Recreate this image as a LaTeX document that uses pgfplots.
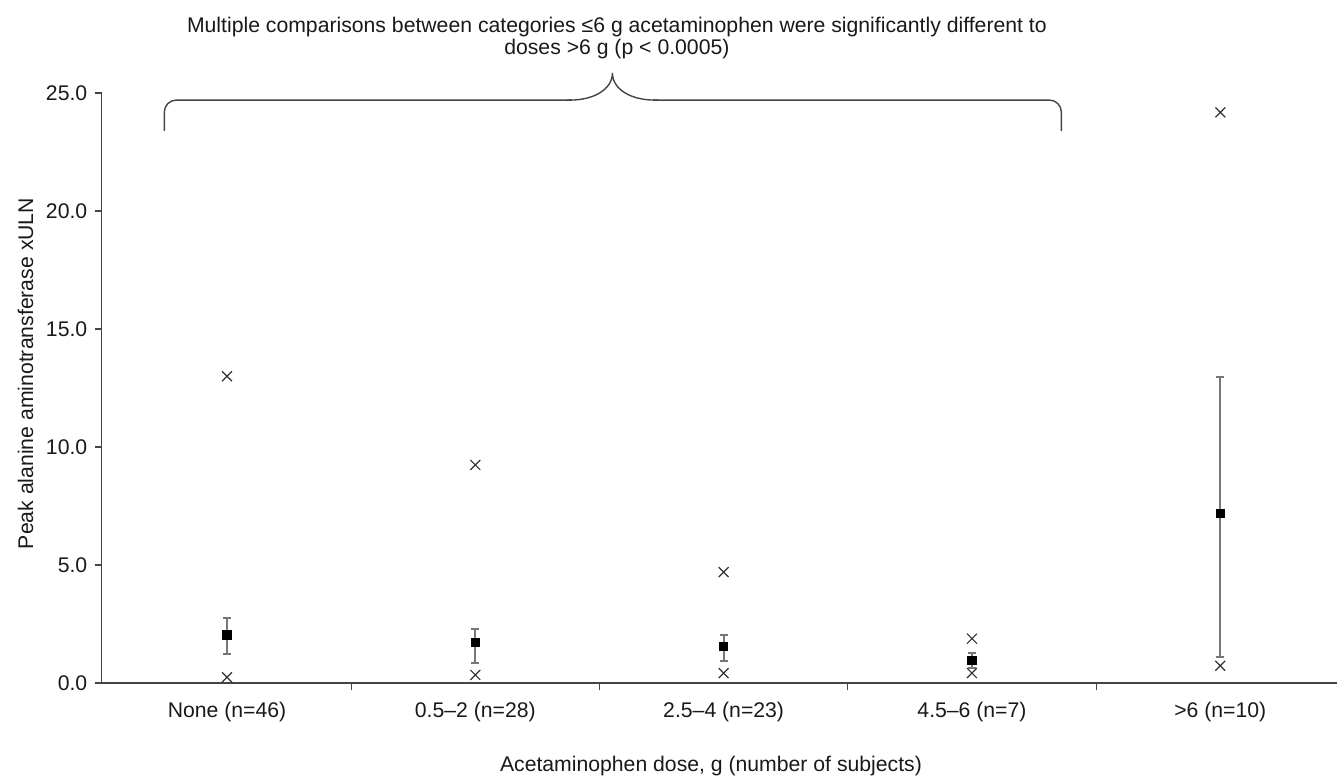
\documentclass[border=0pt]{standalone}
\usepackage{fontspec}
\setmainfont{Liberation Sans}
\usepackage{pgfplots}
\pgfplotsset{compat=1.18}
\definecolor{axgray}{HTML}{444444}
\definecolor{errgray}{HTML}{777777}
\begin{document}
\fontsize{10.6}{12.7}\selectfont
\begin{tikzpicture}
\begin{axis}[
  name=ax,
  scale only axis,
  width=617.65pt, height=295pt,
  xmin=-0.5046, xmax=4.470,
  ymin=0, ymax=25,
  axis x line*=bottom, axis y line*=left,
  clip=false,
  axis line style={draw=axgray, line width=0.6pt},
  tick style={draw=axgray, line width=0.6pt},
  tick align=outside,
  major tick length=3.5pt,
  ytick={0,5,10,15,20,25},
  /pgf/number format/assume math mode=true,
  yticklabel style={/pgf/number format/.cd, fixed, fixed zerofill, precision=1},
  ticklabel style={font=\fontsize{10.6}{12.7}\selectfont, text=black!90},
  xtick={0.5,1.5,2.5,3.5},
  xticklabels={},
  extra x ticks={0,1,2,3,4},
  extra x tick labels={None (n=46), 0.5\textendash2 (n=28), 2.5\textendash4 (n=23), 4.5\textendash6 (n=7), >6 (n=10)},
  extra x tick style={major tick length=0pt, xticklabel style={anchor=base, yshift=-17pt}},
  xlabel={Acetaminophen dose, g (number of subjects)},
  ylabel={Peak alanine aminotransferase xULN},
  every axis x label/.style={at={(axis description cs:0.4932,-0.1508)}, anchor=base, text=black!90},
  every axis y label/.style={at={(axis description cs:-0.0556,0.5246)}, rotate=90, anchor=base, text=black!90},
]
% mean with error bars (asymmetric)
\addplot[only marks, mark=square*, mark size=2.1pt,
  mark options={fill=black, draw=black},
  error bars/y dir=both, error bars/y explicit,
  error bars/error bar style={draw=errgray, solid, line width=0.9pt},
  error bars/error mark options={draw=errgray, solid, rotate=90, mark size=2pt, line width=0.9pt}]
coordinates {
  (0,2.03) += (0,0.71) -= (0,0.81)
  (1,1.71) += (0,0.59) -= (0,0.85)
  (2,1.54) += (0,0.49) -= (0,0.62)
  (3,0.95) += (0,0.33) -= (0,0.30)
  (4,7.19) += (0,5.79) -= (0,6.08)
};
% redraw squares on top of the error bars
\addplot[only marks, mark=square*, mark size=2.1pt, mark options={fill=black, draw=black}]
coordinates {(0,2.03) (1,1.71) (2,1.54) (3,0.95) (4,7.19)};
% maxima
\addplot[only marks, mark=x, mark size=3.5pt, mark options={draw=black!80, line width=0.6pt}]
coordinates {(0,13.00) (1,9.24) (2,4.70) (3,1.88) (4,24.18)};
% minima
\addplot[only marks, mark=x, mark size=3.5pt, mark options={draw=black!80, line width=0.6pt}]
coordinates {(0,0.24) (1,0.34) (2,0.42) (3,0.42) (4,0.73)};
% brace
\draw[axgray, line width=0.7pt, rounded corners=6pt]
  (axis cs:-0.2525,23.39) |- (axis cs:1.39,24.70);
\draw[axgray, line width=0.7pt]
  (axis cs:1.37,24.70) -- (axis cs:1.383,24.70)
  .. controls (axis cs:1.476,24.70) and (axis cs:1.552,25.15) .. (axis cs:1.552,25.85)
  .. controls (axis cs:1.552,25.15) and (axis cs:1.628,24.70) .. (axis cs:1.721,24.70)
  -- (axis cs:1.735,24.70);
\draw[axgray, line width=0.7pt, rounded corners=6pt]
  (axis cs:1.715,24.70) -| (axis cs:3.360,23.39);
% title
\node[anchor=base, text=black!90] at (axis cs:1.57,27.58) {Multiple comparisons between categories ≤6 g acetaminophen were significantly different to};
\node[anchor=base, text=black!90] at (axis cs:1.57,26.61) {doses >6 g (p < 0.0005)};
\end{axis}
\pgfresetboundingbox
\path ([xshift=-50.85pt,yshift=-46.5pt]ax.south west) rectangle ([yshift=46.5pt]ax.north east);
\end{tikzpicture}
\end{document}
